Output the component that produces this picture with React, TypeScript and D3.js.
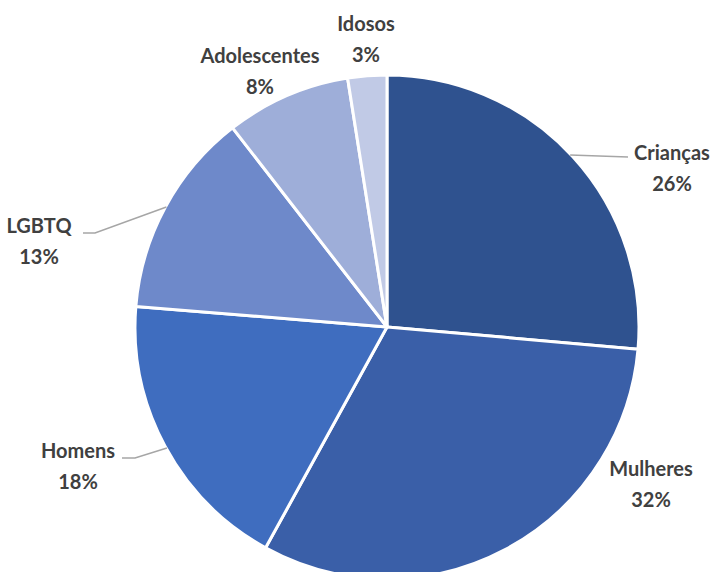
import React from "react";
import * as d3 from "d3";

const categories = ["Crianças", "Mulheres", "Homens", "LGBTQ", "Adolescentes", "Idosos"];
const values = [26.4, 31.6, 18.3, 13.2, 8.0, 2.5];
const percentLabels = ["26%", "32%", "18%", "13%", "8%", "3%"];
const colors = ["#2F528F", "#3A5FA8", "#3F6DBF", "#6E89CA", "#9EAED9", "#C1CAE6"];

// label layout (label centre) and optional leader line: start height on pie edge, elbow, text end
const labelLayout: { x: number; y: number; leader?: { sy: number; ex: number; ey: number; tx: number } }[] = [
  { x: 672, y: 152, leader: { sy: 155, ex: 628, ey: 157, tx: 628 } },
  { x: 651, y: 468 },
  { x: 78, y: 450, leader: { sy: 448, ex: 135, ey: 458, tx: 122 } },
  { x: 39, y: 225, leader: { sy: 207, ex: 95, ey: 233, tx: 83 } },
  { x: 260, y: 55 },
  { x: 366, y: 23 },
];

const W = 719;
const H = 572;
const cx = 387;
const cy = 327;
const R = 252;

export default function App() {
  const pie = d3.pie<number>().sort(null).value((d) => d)(values);
  const arc = d3.arc<d3.PieArcDatum<number>>().innerRadius(0).outerRadius(R);

  return (
    <svg
      width={W}
      height={H}
      style={{ position: "absolute", left: 0, top: 0, background: "#fff" }}
      fontFamily="Lato, 'Open Sans', sans-serif"
    >
      <g transform={`translate(${cx},${cy})`}>
        {pie.map((p, i) => (
          <path key={i} d={arc(p) || ""} fill={colors[i]} stroke="#fff" strokeWidth={3} strokeLinejoin="round" />
        ))}
      </g>
      {labelLayout.map((l, i) => {
        let line = null;
        if (l.leader) {
          const { sy, ex, ey, tx } = l.leader;
          const dy = sy - cy;
          const dx = Math.sqrt(Math.max(0, R * R - dy * dy)) - 1;
          const sx = ex > cx ? cx + dx : cx - dx;
          line = (
            <polyline
              points={`${sx},${sy} ${ex},${ey} ${tx},${ey}`}
              fill="none"
              stroke="#A6A6A6"
              strokeWidth={1.5}
            />
          );
        }
        return (
          <g key={i}>
            {line}
            <text x={l.x} y={l.y} textAnchor="middle" dominantBaseline="central" fontSize={20} fontWeight={700} fill="#404040">
              {categories[i]}
            </text>
            <text x={l.x} y={l.y + 31} textAnchor="middle" dominantBaseline="central" fontSize={20} fontWeight={700} fill="#404040">
              {percentLabels[i]}
            </text>
          </g>
        );
      })}
    </svg>
  );
}
